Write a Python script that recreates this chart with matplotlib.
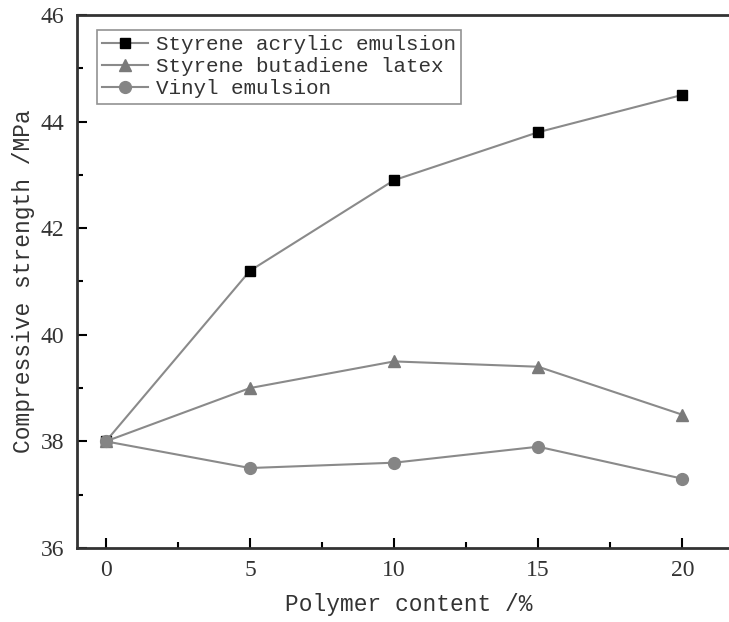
import matplotlib
matplotlib.use('Agg')
import matplotlib.pyplot as plt
from matplotlib.ticker import MultipleLocator

# Data
content = [0, 5, 10, 15, 20]
styrene_acrylic = [38.0, 41.2, 42.9, 43.8, 44.5]
styrene_butadiene = [38.0, 39.0, 39.5, 39.4, 38.5]
vinyl = [38.0, 37.5, 37.6, 37.9, 37.3]
series_names = ['Styrene acrylic emulsion', 'Styrene butadiene latex', 'Vinyl emulsion']

fig = plt.figure(figsize=(7.29, 6.22), dpi=100)
ax = fig.add_axes([0.1056, 0.119, 0.9095, 0.857])

line_color = '#8a8a8a'
ax.plot(content, styrene_acrylic, color=line_color, lw=1.5, marker='s', ms=7.5,
        mfc='black', mec='black', label=series_names[0])
ax.plot(content, styrene_butadiene, color=line_color, lw=1.5, marker='^', ms=8.5,
        mfc='#7a7a7a', mec='#7a7a7a', label=series_names[1])
ax.plot(content, vinyl, color=line_color, lw=1.5, marker='o', ms=8.5,
        mfc='#858585', mec='#858585', label=series_names[2])

ax.set_xlim(-1, 22)
ax.set_ylim(36, 46)
ax.xaxis.set_major_locator(MultipleLocator(5))
ax.xaxis.set_minor_locator(MultipleLocator(2.5))
ax.yaxis.set_major_locator(MultipleLocator(2))
ax.yaxis.set_minor_locator(MultipleLocator(1))
ax.tick_params(which='both', direction='in', top=False, right=False, width=1.5)
ax.tick_params(which='major', length=7, labelsize=17, pad=9)
ax.tick_params(which='minor', length=4)
for lbl in ax.get_xticklabels() + ax.get_yticklabels():
    lbl.set_family('Liberation Serif')
    lbl.set_color('#333333')
for sp in ax.spines.values():
    sp.set_linewidth(2)
    sp.set_color('#333333')

ax.set_xlabel('Polymer content /%', family='Liberation Mono', fontsize=16.5,
              color='#333333', labelpad=8)
ax.set_ylabel('Compressive strength /MPa', family='Liberation Mono', fontsize=16.5,
              color='#333333', labelpad=4)

leg = ax.legend(loc='upper left', bbox_to_anchor=(0.03, 0.972),
                prop={'family': 'Liberation Mono', 'size': 15},
                fancybox=False, edgecolor='#777777', handlelength=2.2,
                handletextpad=0.4, borderpad=0.25, labelspacing=0.15,
                borderaxespad=0)
leg.get_frame().set_linewidth(1.2)
for t in leg.get_texts():
    t.set_color('#333333')

fig.savefig('out.png', dpi=100)
